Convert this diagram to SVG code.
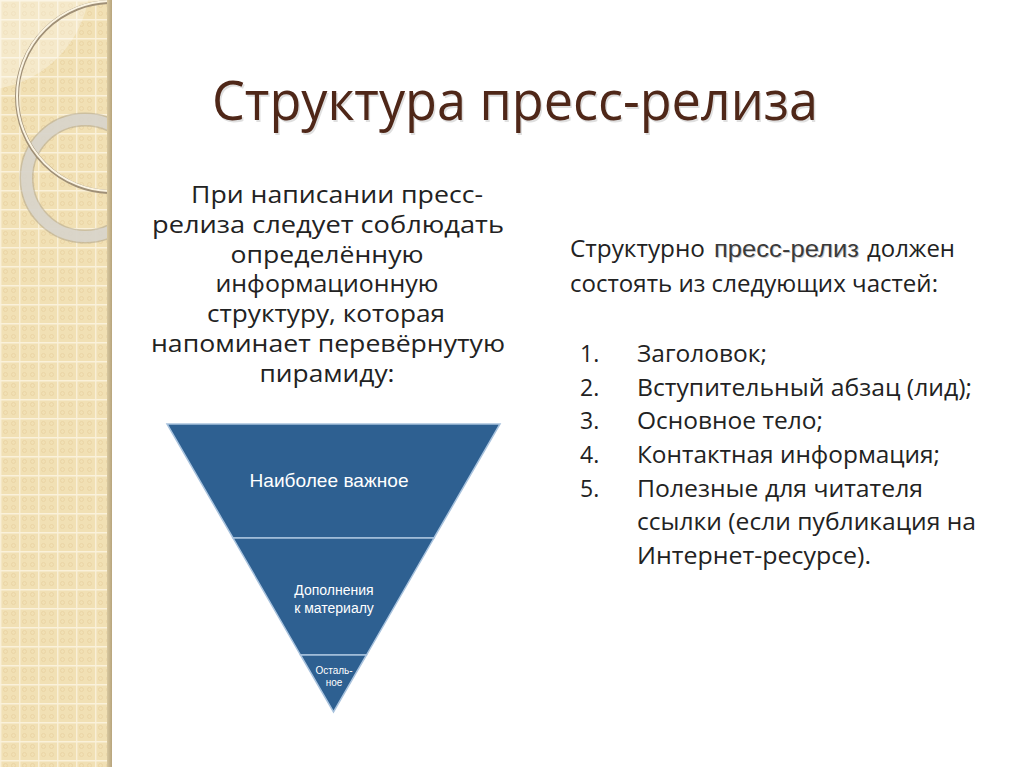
<svg xmlns="http://www.w3.org/2000/svg" width="1024" height="767" viewBox="0 0 1024 767">
<defs>
<style>
.title{font-family:"Open Sans","Noto Sans",sans-serif;font-size:54px;fill:#4f2718}
.lp{font-family:"Open Sans","Noto Sans",sans-serif;font-size:23px;fill:#222222;text-anchor:middle}
.rp{font-family:"Open Sans","Noto Sans",sans-serif;font-size:23px;fill:#222222}
.pyr{fill:#2e6091;stroke:#a8c2dd;stroke-width:1.5}
.pt{font-family:"Liberation Sans",Arial,sans-serif;fill:#ffffff;text-anchor:middle}
</style>
<pattern id="grid" width="19" height="19" patternUnits="userSpaceOnUse">
<rect width="19" height="19" fill="#f1e0b4"/>
<g fill="none" stroke="#e7d29f" stroke-width="0.8">
<circle cx="5.5" cy="5.5" r="2"/><circle cx="13.5" cy="5.5" r="2"/>
<circle cx="5.5" cy="13.5" r="2"/><circle cx="13.5" cy="13.5" r="2"/>
</g>
<path d="M0 0.75H19M0.75 0V19" stroke="#faf1da" stroke-width="1.3"/>
</pattern>
<linearGradient id="edge" x1="0" x2="1" y1="0" y2="0">
<stop offset="0" stop-color="#d8c8a0"/><stop offset="1" stop-color="#b7a47c"/>
</linearGradient>
<clipPath id="stripClip"><rect x="0" y="0" width="108" height="767"/></clipPath>
</defs>
<rect width="1024" height="767" fill="#ffffff"/>
<g id="strip">
<rect x="0" y="0" width="108" height="767" fill="url(#grid)"/>
<g clip-path="url(#stripClip)">
<circle cx="-20" cy="-20" r="110" fill="#ffffff" fill-opacity="0.3"/>
<circle cx="85" cy="178" r="58.5" fill="none" stroke="#a89e8a" stroke-width="14" stroke-opacity="0.5"/>
<circle cx="85" cy="178" r="58.5" fill="none" stroke="#dcd8d0" stroke-width="11" stroke-opacity="0.85"/>
<circle cx="112" cy="97" r="95" fill="none" stroke="#9f8f76" stroke-width="4"/>
<circle cx="112" cy="96" r="95" fill="none" stroke="#fbf4e2" stroke-width="2"/>
</g>
<rect x="107" y="0" width="5" height="767" fill="url(#edge)"/>
</g>
<g id="title">
<text class="title" x="213.5" y="121.5" style="fill:#000000;opacity:0.12" textLength="606" lengthAdjust="spacingAndGlyphs">Структура пресс-релиза</text>
<text class="title" x="212" y="120" textLength="606" lengthAdjust="spacingAndGlyphs">Структура пресс-релиза</text>
</g>
<g id="left-text">
<text class="lp" x="337" y="203" textLength="292" lengthAdjust="spacingAndGlyphs">При написании пресс-</text>
<text class="lp" x="328" y="233" textLength="352" lengthAdjust="spacingAndGlyphs">релиза следует соблюдать</text>
<text class="lp" x="327" y="263" textLength="193" lengthAdjust="spacingAndGlyphs">определённую</text>
<text class="lp" x="327" y="292" textLength="223" lengthAdjust="spacingAndGlyphs">информационную</text>
<text class="lp" x="326" y="322" textLength="238" lengthAdjust="spacingAndGlyphs">структуру, которая</text>
<text class="lp" x="328" y="352" textLength="354" lengthAdjust="spacingAndGlyphs">напоминает перевёрнутую</text>
<text class="lp" x="327" y="382" textLength="135" lengthAdjust="spacingAndGlyphs">пирамиду:</text>
</g>
<g id="pyramid">
<g id="node-top">
<polygon class="pyr" points="167,424 500,424 434,538 233,538"/>
<text class="pt" x="329" y="487" font-size="19" textLength="159" lengthAdjust="spacingAndGlyphs">Наиболее важное</text>
</g>
<g id="node-middle">
<polygon class="pyr" points="233,538 434,538 366.5,655 300.5,655"/>
<text class="pt" x="334" y="595" font-size="14">Дополнения</text>
<text class="pt" x="334" y="613" font-size="14">к материалу</text>
</g>
<g id="node-bottom">
<polygon class="pyr" points="300.5,655 366.5,655 333.5,712"/>
<text class="pt" x="334" y="674" font-size="10">Осталь-</text>
<text class="pt" x="334" y="686" font-size="10">ное</text>
</g>
</g>
<g id="connectors"/>
<g id="right-text">
<text class="rp" x="570" y="257" textLength="135" lengthAdjust="spacingAndGlyphs">Структурно</text>
<text x="715" y="258" font-family="Liberation Sans, Arial, sans-serif" font-size="24" fill="#000" opacity="0.2" textLength="145" lengthAdjust="spacingAndGlyphs">пресс-релиз</text>
<text x="714" y="257" font-family="Liberation Sans, Arial, sans-serif" font-size="24" fill="#3a3a3a" textLength="145" lengthAdjust="spacingAndGlyphs">пресс-релиз</text>
<text class="rp" x="867" y="257" textLength="88" lengthAdjust="spacingAndGlyphs">должен</text>
<text class="rp" x="570" y="292" textLength="368" lengthAdjust="spacingAndGlyphs">состоять из следующих частей:</text>
<text class="rp" x="580" y="362">1.</text>
<text class="rp" x="637" y="362" textLength="130" lengthAdjust="spacingAndGlyphs">Заголовок;</text>
<text class="rp" x="580" y="396">2.</text>
<text class="rp" x="637" y="396" textLength="335" lengthAdjust="spacingAndGlyphs">Вступительный абзац (лид);</text>
<text class="rp" x="580" y="429">3.</text>
<text class="rp" x="637" y="429" textLength="186" lengthAdjust="spacingAndGlyphs">Основное тело;</text>
<text class="rp" x="580" y="463">4.</text>
<text class="rp" x="637" y="463" textLength="303" lengthAdjust="spacingAndGlyphs">Контактная информация;</text>
<text class="rp" x="580" y="497">5.</text>
<text class="rp" x="637" y="497" textLength="286" lengthAdjust="spacingAndGlyphs">Полезные для читателя</text>
<text class="rp" x="637" y="530" textLength="339" lengthAdjust="spacingAndGlyphs">ссылки (если публикация на</text>
<text class="rp" x="637" y="564" textLength="234" lengthAdjust="spacingAndGlyphs">Интернет-ресурсе).</text>
</g>
</svg>
